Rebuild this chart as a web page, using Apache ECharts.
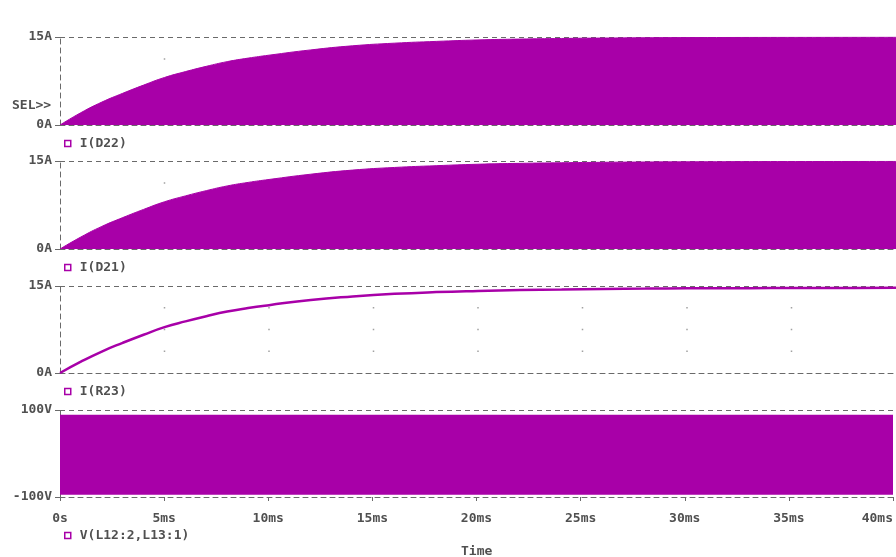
<!DOCTYPE html>
<html>
<head>
<meta charset="utf-8">
<title>Transient analysis</title>
<script src="https://cdn.jsdelivr.net/npm/echarts@6/dist/echarts.min.js"></script>
<style>
  html, body { margin: 0; padding: 0; background: #ffffff; }
  #chart { width: 896px; height: 557px; }
</style>
</head>
<body>
<div id="chart"></div>
<script>
// Sample times (ms)
const timeMs = [0, 1, 2, 3, 4, 5, 6, 7, 8, 9, 10, 12, 14, 16, 18, 20, 22, 24, 26, 28, 30, 32, 34, 36, 38, 40];

// Peak envelope of the rectifier diode currents (A)
const iD22 = [0, 2.1, 3.9, 5.4, 6.8, 8.1, 9.1, 10.0, 10.8, 11.4, 11.9, 12.8, 13.5, 13.95, 14.25, 14.5, 14.65, 14.75, 14.82, 14.87, 14.9, 14.92, 14.94, 14.95, 14.96, 14.97];
const iD21 = [0, 2.05, 3.85, 5.35, 6.75, 8.05, 9.05, 9.95, 10.75, 11.35, 11.85, 12.75, 13.45, 13.9, 14.2, 14.45, 14.6, 14.7, 14.78, 14.83, 14.86, 14.88, 14.9, 14.91, 14.92, 14.93];

// Load resistor current (A)
const iR23 = [0, 1.95, 3.7, 5.2, 6.6, 7.9, 8.9, 9.8, 10.6, 11.2, 11.7, 12.6, 13.2, 13.65, 13.95, 14.15, 14.3, 14.4, 14.5, 14.55, 14.6, 14.62, 14.64, 14.66, 14.67, 14.68];

// Winding voltage switches between these levels (V)
const vTime = [0, 40];
const vHigh = [89, 89];
const vLow = -95;

// Axis ticks
const xTicks = [0, 5, 10, 15, 20, 25, 30, 35, 40];
const xTickLabels = ['0s', '5ms', '10ms', '15ms', '20ms', '25ms', '30ms', '35ms', '40ms'];
const currentRange = [0, 15];
const currentTickLabels = ['0A', '15A'];
const voltageRange = [-100, 100];
const voltageTickLabels = ['-100V', '100V'];

const traceNames = ['I(D22)', 'I(D21)', 'I(R23)', 'V(L12:2,L13:1)'];

const TRACE = '#a800a8';
const INK = '#505050';
const GRIDC = '#6a6a6a';
const FONT = 'DejaVu Sans Mono';

const pairs = (xs, ys) => xs.map((x, i) => [x, ys[i]]);

// grid-point dots at each time division and quarter of the value span
function gridDots(range) {
  const pts = [];
  const span = range[1] - range[0];
  xTicks.slice(1, -1).forEach(x => {
    [1, 2, 3].forEach(q => pts.push([x, range[0] + span * q / 4]));
  });
  return pts;
}

const grids = [
  { left: 60, right: 0, top: 37, height: 88 },
  { left: 60, right: 0, top: 161, height: 88 },
  { left: 60, right: 0, top: 286, height: 87 },
  { left: 60, right: 0, top: 410, height: 87 }
];

const dashed = { color: GRIDC, width: 1, type: [5, 4] };

const xAxes = grids.map((g, i) => ({
  type: 'value', gridIndex: i, min: 0, max: 40, interval: 5,
  axisLine: { show: true, onZero: false, lineStyle: dashed },
  axisTick: { show: i === 3, length: 4, lineStyle: { color: GRIDC } },
  axisLabel: {
    show: i === 3, margin: 15, color: INK, fontFamily: FONT, fontWeight: 'bold', fontSize: 13,
    alignMaxLabel: 'right',
    formatter: v => xTickLabels[xTicks.indexOf(v)] || ''
  },
  splitLine: { show: false }
}));

const yAxes = grids.map((g, i) => {
  const isV = i === 3;
  const range = isV ? voltageRange : currentRange;
  const labels = isV ? voltageTickLabels : currentTickLabels;
  return {
    type: 'value', gridIndex: i, min: range[0], max: range[1], interval: range[1] - range[0],
    axisLine: { show: true, lineStyle: dashed },
    axisTick: { show: true, length: 5, lineStyle: { color: GRIDC } },
    axisLabel: {
      margin: 8, color: INK, fontFamily: FONT, fontWeight: 'bold', fontSize: 13,
      formatter: v => labels[range.indexOf(v)]
    },
    splitLine: { show: true, lineStyle: dashed }
  };
});

const series = [];
[currentRange, currentRange, currentRange, voltageRange].forEach((r, i) => {
  series.push({
    type: 'scatter', xAxisIndex: i, yAxisIndex: i, data: gridDots(r),
    symbol: 'rect', symbolSize: 1.5, itemStyle: { color: '#8a8a8a' },
    silent: true, z: 1, legendHoverLink: false, tooltip: { show: false }
  });
});

series.push({
  name: traceNames[0], type: 'line', xAxisIndex: 0, yAxisIndex: 0,
  data: pairs(timeMs, iD22), smooth: true, showSymbol: false,
  lineStyle: { color: TRACE, width: 1 }, itemStyle: { color: TRACE },
  areaStyle: { color: TRACE, opacity: 1 }, z: 3
});
series.push({
  name: traceNames[1], type: 'line', xAxisIndex: 1, yAxisIndex: 1,
  data: pairs(timeMs, iD21), smooth: true, showSymbol: false,
  lineStyle: { color: TRACE, width: 1 }, itemStyle: { color: TRACE },
  areaStyle: { color: TRACE, opacity: 1 }, z: 3
});
series.push({
  name: traceNames[2], type: 'line', xAxisIndex: 2, yAxisIndex: 2,
  data: pairs(timeMs, iR23), smooth: true, showSymbol: false,
  lineStyle: { color: TRACE, width: 2.5 }, itemStyle: { color: TRACE }, z: 3
});
// voltage swing: filled from the high level down to the low level
series.push({
  name: traceNames[3], type: 'line', xAxisIndex: 3, yAxisIndex: 3,
  data: pairs(vTime, vHigh), showSymbol: false,
  lineStyle: { color: TRACE, width: 0 }, itemStyle: { color: TRACE },
  areaStyle: { color: TRACE, opacity: 1, origin: vLow }, z: 3
});

const legendTops = [132, 256, 380, 524];
const legends = traceNames.map((n, i) => ({
  data: [{ name: n, icon: 'rect' }], left: 59, top: legendTops[i], orient: 'horizontal',
  itemWidth: 6, itemHeight: 6, selectedMode: false,
  itemStyle: { color: '#ffffff', borderColor: TRACE, borderWidth: 1.5 },
  textStyle: { color: INK, fontFamily: FONT, fontWeight: 'bold', fontSize: 13, padding: [0, 0, 0, 4] }
}));

const chart = echarts.init(document.getElementById('chart'), null, { renderer: 'canvas' });
chart.setOption({
  animation: false,
  backgroundColor: '#ffffff',
  grid: grids,
  xAxis: xAxes,
  yAxis: yAxes,
  legend: legends,
  series: series,
  graphic: [
    { type: 'text', left: 12, top: 99, style: { text: 'SEL>>', fill: INK, font: 'bold 13px "DejaVu Sans Mono"' } },
    { type: 'text', left: 461, top: 545, style: { text: 'Time', fill: INK, font: 'bold 13px "DejaVu Sans Mono"' } }
  ]
});
</script>
</body>
</html>
